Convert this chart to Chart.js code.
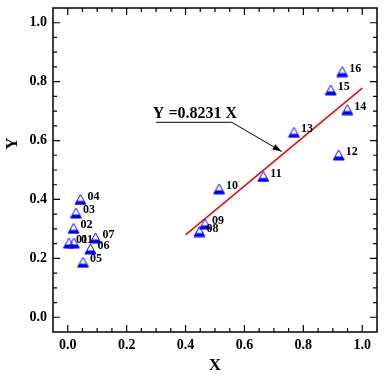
<!DOCTYPE html>
<html><head><meta charset="utf-8">
<script src="https://cdn.jsdelivr.net/npm/chart.js@4"></script>
<style>html,body{margin:0;padding:0;background:#fff}</style>
</head><body>
<canvas id="c" width="385" height="378"></canvas>
<script>
// ---- data ----
const pointLabels = ['01','01','02','03','04','05','06','07','08','09','10','11','12','13','14','15','16'];
const xValues = [0.004,0.021,0.020,0.028,0.043,0.052,0.077,0.094,0.447,0.466,0.514,0.664,0.920,0.768,0.949,0.893,0.932];
const yValues = [0.252,0.252,0.302,0.354,0.400,0.187,0.232,0.269,0.291,0.317,0.436,0.478,0.551,0.628,0.705,0.772,0.834];
const fitX = [0.4, 1.0];
const fitY = [0.28, 0.778];
const tickValues = [0.0, 0.2, 0.4, 0.6, 0.8, 1.0];
const axisMin = -0.05, axisMax = 1.05, minorStep = 0.05;
const fitLabel = 'Y =0.8231 X';
const xTitle = 'X', yTitle = 'Y';
// annotation anchor (data space)
const note = {textX: 0.289, textY: 0.678, lineX0: 0.300, lineX1: 0.557, lineY: 0.662, tipX: 0.726, tipY: 0.563};

const SERIF = '"Liberation Serif", "Times New Roman", serif';
const BLUE = '#0000ff';

// marker: open triangle with lower part filled
function makeMarker(){
  const c = document.createElement('canvas');
  c.width = 13; c.height = 12;
  const g = c.getContext('2d');
  g.beginPath();
  g.moveTo(6.5, 1); g.lineTo(12, 11); g.lineTo(1, 11); g.closePath();
  g.save(); g.clip();
  g.fillStyle = BLUE; g.fillRect(0, 7.5, 13, 6);
  g.restore();
  g.strokeStyle = BLUE; g.lineWidth = 1;
  g.beginPath();
  g.moveTo(6.5, 1); g.lineTo(12, 11); g.lineTo(1, 11); g.closePath();
  g.stroke();
  return c;
}
const marker = makeMarker();

const points = xValues.map((x, i) => ({x, y: yValues[i]}));
const fitPoints = fitX.map((x, i) => ({x, y: fitY[i]}));

const decor = {
  id: 'decor',
  afterDatasetsDraw(chart){
    const ctx = chart.ctx, xs = chart.scales.x, ys = chart.scales.y, a = chart.chartArea;
    ctx.save();
    // point labels
    ctx.fillStyle = '#000';
    ctx.font = 'bold 12px ' + SERIF;
    ctx.textAlign = 'left'; ctx.textBaseline = 'middle';
    const meta = chart.getDatasetMeta(1);
    meta.data.forEach((el, i) => {
      ctx.fillText(pointLabels[i], el.x + 7, el.y - 3);
    });
    // frame
    ctx.strokeStyle = '#000'; ctx.lineWidth = 1.5;
    ctx.strokeRect(a.left, a.top, a.right - a.left, a.bottom - a.top);
    // ticks (inward, all four sides)
    ctx.lineWidth = 1.2;
    const n = Math.round((tickValues[tickValues.length-1] - tickValues[0]) / minorStep);
    for (let k = 0; k <= n; k++){
      const v = tickValues[0] + k * minorStep;
      const major = tickValues.some(t => Math.abs(t - v) < 1e-9);
      const len = major ? 7 : 4;
      const px = xs.getPixelForValue(v), py = ys.getPixelForValue(v);
      ctx.beginPath();
      ctx.moveTo(px, a.bottom); ctx.lineTo(px, a.bottom - len);
      ctx.moveTo(px, a.top); ctx.lineTo(px, a.top + len);
      ctx.moveTo(a.left, py); ctx.lineTo(a.left + len, py);
      ctx.moveTo(a.right, py); ctx.lineTo(a.right - len, py);
      ctx.stroke();
    }
    // annotation
    ctx.font = 'bold 16px ' + SERIF;
    ctx.textBaseline = 'alphabetic'; ctx.textAlign = 'left';
    ctx.fillText(fitLabel, xs.getPixelForValue(note.textX), ys.getPixelForValue(note.textY));
    const lx0 = xs.getPixelForValue(note.lineX0), lx1 = xs.getPixelForValue(note.lineX1), ly = ys.getPixelForValue(note.lineY);
    const tx = xs.getPixelForValue(note.tipX), ty = ys.getPixelForValue(note.tipY);
    ctx.lineWidth = 1;
    ctx.beginPath(); ctx.moveTo(lx0, ly); ctx.lineTo(lx1, ly); ctx.lineTo(tx, ty); ctx.stroke();
    const ang = Math.atan2(ty - ly, tx - lx1);
    ctx.beginPath();
    ctx.moveTo(tx, ty);
    ctx.lineTo(tx - 9*Math.cos(ang) + 3*Math.sin(ang), ty - 9*Math.sin(ang) - 3*Math.cos(ang));
    ctx.lineTo(tx - 9*Math.cos(ang) - 3*Math.sin(ang), ty - 9*Math.sin(ang) + 3*Math.cos(ang));
    ctx.closePath(); ctx.fill();
    // axis titles
    ctx.font = 'bold 17px ' + SERIF;
    ctx.textAlign = 'center'; ctx.textBaseline = 'middle';
    ctx.fillText(xTitle, (a.left + a.right)/2, 366);
    ctx.translate(13, ys.getPixelForValue(0.59));
    ctx.rotate(-Math.PI/2);
    ctx.fillText(yTitle, 0, 0);
    ctx.restore();
  }
};

const tickFont = {family: SERIF, size: 14, weight: 'bold'};
const setTicks = s => { s.ticks = tickValues.map(v => ({value: v})); };

new Chart(document.getElementById('c'), {
  type: 'scatter',
  data: {
    datasets: [
      {type: 'line', data: fitPoints, borderColor: '#ff0000', borderWidth: 1.5, pointRadius: 0, fill: false, order: 2},
      {data: points, pointStyle: marker, pointRadius: 6, pointHoverRadius: 6, order: 1}
    ]
  },
  options: {
    responsive: false, animation: false, devicePixelRatio: 1,
    layout: {padding: {left: 0, right: 8, top: 8, bottom: 0}},
    plugins: {legend: {display: false}, tooltip: {enabled: false}},
    events: [],
    scales: {
      x: {
        type: 'linear', min: axisMin, max: axisMax,
        afterBuildTicks: setTicks,
        afterFit: s => { s.height = 46; s.paddingLeft = 0; s.paddingRight = 0; },
        grid: {display: false, drawTicks: false}, border: {display: false},
        ticks: {font: tickFont, color: '#000', padding: 5, maxRotation: 0, callback: v => v.toFixed(1)}
      },
      y: {
        type: 'linear', min: axisMin, max: axisMax,
        afterBuildTicks: setTicks,
        afterFit: s => { s.width = 53; s.paddingTop = 0; s.paddingBottom = 0; },
        grid: {display: false, drawTicks: false}, border: {display: false},
        ticks: {font: tickFont, color: '#000', padding: 6, callback: v => v.toFixed(1)}
      }
    }
  },
  plugins: [decor]
});
</script>
</body></html>
